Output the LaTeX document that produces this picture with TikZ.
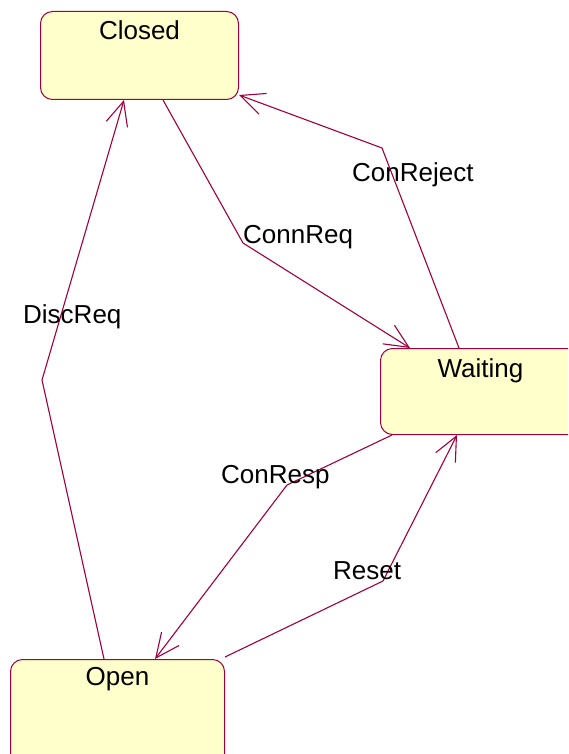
\documentclass[tikz,border=0pt]{standalone}
\usepackage{fontspec}
\setmainfont{Liberation Sans}
\usetikzlibrary{arrows.meta}
\definecolor{statefill}{RGB}{255,255,204}
\definecolor{wine}{RGB}{160,0,64}
\begin{document}
\begin{tikzpicture}[x=1pt,y=-1pt,
  statebox/.style={draw=wine,fill=statefill,line width=1pt,rounded corners=12pt,
    inner xsep=0pt,inner ysep=0pt,anchor=north west,font=\fontsize{26}{30}\selectfont},
  trans/.style={draw=wine,line width=1.1pt,-{Straight Barb[length=24pt,width=22pt,line width=1.1pt]}},
  tlabel/.style={anchor=base west,inner sep=0pt,font=\fontsize{26}{30}\selectfont}]
\useasboundingbox (0,0) rectangle (568,754);
\clip (0,0) rectangle (568,754);
% states
\node[statebox,minimum width=198pt,text height=28pt,text depth=60pt] (closed) at (40,11) {Closed};
\node[statebox,minimum width=200pt,text height=29pt,text depth=57pt] (waiting) at (380,348) {Waiting};
\node[statebox,minimum width=214pt,text height=26pt,text depth=95pt] (open) at (10,659) {Open};
% bend points
\coordinate (bReq) at (243,243);
\coordinate (bRej) at (382,148);
\coordinate (bDisc) at (42,380);
\coordinate (bResp) at (287,485);
\coordinate (bReset) at (383,581);
% transitions
\draw[trans] ([xshift=123pt]closed.south west) -- (bReq) -- ([xshift=30pt]waiting.north west);
\draw[trans] ([xshift=79pt]waiting.north west) -- (bRej) -- ([yshift=5pt]closed.south east);
\draw[trans] ([xshift=94pt]open.north west) -- (bDisc) -- ([xshift=84pt]closed.south west);
\draw[trans] ([xshift=12pt]waiting.south west) -- (bResp) -- ([xshift=145pt]open.north west);
\draw[trans] ([yshift=2pt]open.north east) -- (bReset) -- ([xshift=77pt]waiting.south west);
% transition labels
\node[tlabel] (lReq) at (243,243) {ConnReq};
\node[tlabel] (lRej) at (352,182) {ConReject};
\node[tlabel] (lDisc) at (23,323) {DiscReq};
\node[tlabel] (lResp) at (221,483) {ConResp};
\node[tlabel] (lReset) at (333,579) {Reset};
\end{tikzpicture}
\end{document}
